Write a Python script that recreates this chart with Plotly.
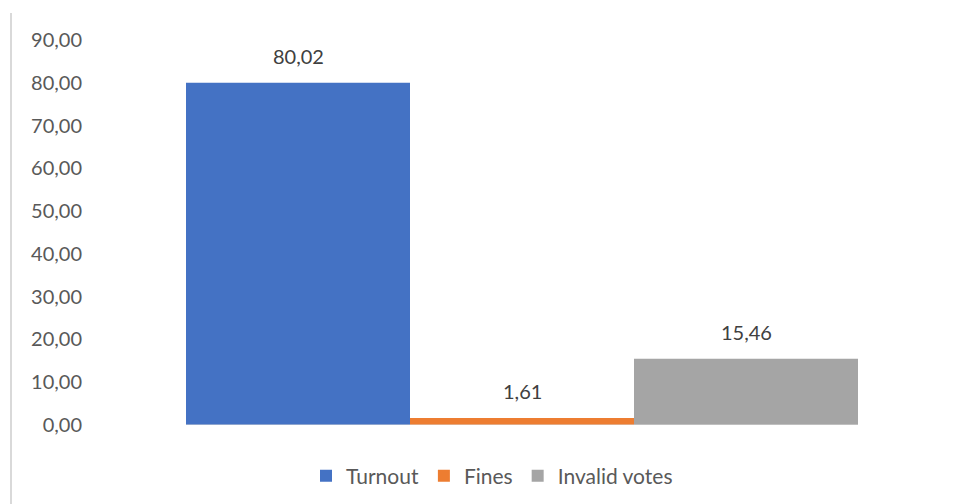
import plotly.graph_objects as go

series_names = ["Turnout", "Fines", "Invalid votes"]
series_values = [80.02, 1.61, 15.46]
series_colors = ["#4472C4", "#ED7D31", "#A5A5A5"]
y_ticks = [0, 10, 20, 30, 40, 50, 60, 70, 80, 90]

W, H = 958, 504
ml, mr, mt, mb = 95, 8, 40, 79
pw = W - ml - mr
ph = H - mt - mb

fig = go.Figure()
for i, (n, v, c) in enumerate(zip(series_names, series_values, series_colors)):
    fig.add_trace(go.Bar(x=[i], y=[v], name=n, width=1, marker=dict(color=c, line=dict(width=0)),
                         hoverinfo="skip"))
    fig.add_annotation(x=i, y=v, text=f"{v:.2f}".replace(".", ","), showarrow=False,
                       yanchor="middle", yshift=27, font=dict(family="Lato", size=20, color="#404040"))

# baseline across bars
fig.add_shape(type="line", xref="x", yref="y", x0=-0.5, x1=len(series_values) - 0.5, y0=0, y1=0,
              line=dict(color="#D9D9D9", width=1))
# chart-area left border
fig.add_shape(type="line", xref="paper", yref="paper",
              x0=(11 - ml) / pw, x1=(11 - ml) / pw, y0=(H - mb - H) / ph, y1=(H - mb - 13) / ph,
              line=dict(color="#D9D9D9", width=2))

bar_px = 224
span = pw / bar_px
center = (len(series_values) - 1) / 2 + ((187 + 859) / 2 - (ml + pw / 2)) / bar_px
fig.update_layout(
    width=W, height=H,
    margin=dict(l=ml, r=mr, t=mt, b=mb),
    paper_bgcolor="white", plot_bgcolor="white",
    separators=", ",
    barmode="overlay",
    showlegend=True,
    legend=dict(orientation="h", x=(492 - ml) / pw, xanchor="center", y=(H - mb - 476) / ph, yanchor="middle",
                font=dict(family="Lato", size=21, color="#595959"), itemwidth=30, tracegroupgap=0,
                traceorder="normal"),
    font=dict(family="Lato", size=20, color="#595959"),
)
fig.update_xaxes(range=[center - span / 2, center + span / 2], showticklabels=False, showgrid=False,
                 zeroline=False, showline=False, fixedrange=True)
fig.update_yaxes(range=[0, 90], tickvals=y_ticks, tickformat=".2f", showgrid=False, zeroline=False,
                 showline=False, ticks="", ticklabelstandoff=12, tickfont=dict(family="Lato", size=20, color="#595959"))

fig.write_html("out.html", config={"displayModeBar": False},
               post_script="document.body.style.margin='0';document.body.style.overflow='hidden';")
